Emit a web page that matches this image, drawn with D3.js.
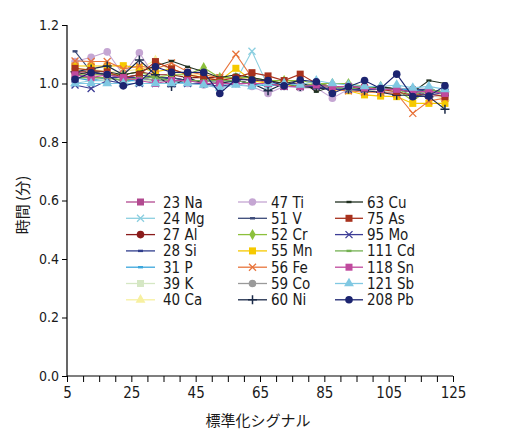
<!DOCTYPE html>
<html><head><meta charset="utf-8">
<script src="https://cdn.jsdelivr.net/npm/d3@7"></script>
<style>
html,body{margin:0;padding:0;background:#fff;}
svg text{font-family:"Liberation Sans Narrow","DejaVu Sans Condensed","Roboto Condensed",sans-serif;fill:#1a1a1a;}
</style></head>
<body><svg id="c" width="522" height="436"></svg>
<script>
const xValues = [7.5,12.5,17.5,22.5,27.5,32.5,37.5,42.5,47.5,52.5,57.5,62.5,67.5,72.5,77.5,82.5,87.5,92.5,97.5,102.5,107.5,112.5,117.5,122.5];
const xTicks = [5,10,15,20,25,30,35,40,45,50,55,60,65,70,75,80,85,90,95,100,105,110,115,120,125];
const xTickLabels = [5,25,45,65,85,105,125];
const yTicks = [0,0.2,0.4,0.6,0.8,1.0,1.2];
const seriesNames = ["23 Na","24 Mg","27 Al","28 Si","31 P","39 K","40 Ca","47 Ti","51 V","52 Cr","55 Mn","56 Fe","59 Co","60 Ni","63 Cu","75 As","95 Mo","111 Cd","118 Sn","121 Sb","208 Pb"];
const Na = [1.04,1.03,1.03,1.02,1.03,1.02,1.02,1.01,1.01,1.0,1.01,1.0,1.0,0.99,0.99,0.99,0.98,0.98,0.98,0.97,0.97,0.96,0.96,0.96];
const Mg = [1.0,1.01,1.01,1.0,1.02,1.0,1.0,1.01,1.0,0.99,1.01,1.11,0.99,1.0,0.99,0.99,0.98,0.99,0.98,0.98,0.98,0.97,0.97,0.97];
const Al = [1.04,1.04,1.03,1.03,1.04,1.03,1.03,1.02,1.02,1.02,1.02,1.01,1.01,1.0,1.0,1.0,0.99,0.99,0.99,0.98,0.98,0.98,0.97,0.97];
const Si = [1.03,1.02,1.02,1.02,1.02,1.01,1.02,1.01,1.01,1.01,1.01,1.0,1.0,1.0,1.0,0.99,0.99,0.99,0.98,0.99,0.98,0.98,0.98,0.97];
const P  = [1.02,1.01,1.02,1.01,1.01,1.01,1.01,1.0,1.0,1.0,1.0,1.0,0.99,1.0,0.99,0.99,0.99,0.98,0.99,0.98,0.98,0.98,0.97,0.97];
const K  = [1.02,1.02,1.01,1.02,1.01,1.01,1.01,1.01,1.0,1.0,1.0,1.0,1.0,0.99,0.99,0.99,0.98,0.98,0.98,0.97,0.98,0.97,0.97,0.96];
const Ca = [1.05,1.05,1.04,1.04,1.05,1.08,1.04,1.03,1.03,1.02,1.02,1.02,1.01,1.01,1.0,1.0,0.99,0.99,0.98,0.98,0.97,0.96,0.96,0.95];
const Ti = [1.075,1.09,1.108,1.03,1.105,1.02,1.0,1.0,0.995,0.985,1.0,0.99,0.966,0.99,0.985,0.985,0.95,0.98,0.975,0.97,0.97,0.96,0.955,0.96];
const V  = [1.11,1.04,1.03,1.02,1.03,1.02,1.02,1.01,1.01,1.01,1.01,1.0,1.0,1.0,0.99,1.0,0.99,0.99,0.98,0.98,0.98,0.97,0.98,0.97];
const Cr = [1.03,1.03,1.03,1.03,1.04,1.02,1.03,1.03,1.054,1.02,1.02,1.02,1.01,1.01,1.01,1.0,1.0,1.0,0.99,0.99,0.98,0.94,0.98,0.97];
const Mn = [1.06,1.06,1.06,1.061,1.054,1.04,1.05,1.03,1.02,1.01,1.052,1.01,1.0,0.995,0.99,0.989,0.98,0.975,0.961,0.957,0.955,0.932,0.932,0.932];
const Fe = [1.077,1.075,1.075,1.05,1.06,1.05,1.07,1.04,1.03,1.02,1.10,1.02,1.0,1.0,0.99,0.99,0.98,0.975,0.97,0.97,0.965,0.898,0.94,0.95];
const Co = [1.02,1.02,1.02,1.01,1.02,1.01,1.01,1.01,1.01,1.0,1.0,1.0,1.0,0.99,0.99,0.99,0.99,0.98,0.98,0.98,0.98,0.97,0.97,0.97];
const Ni = [1.04,1.05,1.06,1.03,1.08,1.03,0.99,1.02,1.0,1.0,1.01,1.0,0.975,1.0,0.99,0.985,0.98,0.98,0.975,0.97,0.96,0.96,0.955,0.912];
const Cu = [1.03,1.04,1.04,1.03,1.04,1.06,1.077,1.057,1.04,1.02,1.03,1.02,1.01,1.0,1.01,0.972,0.99,0.99,0.98,0.99,0.98,0.97,1.01,1.0];
const As = [1.052,1.045,1.04,1.02,1.03,1.075,1.05,1.03,1.02,1.01,1.02,1.037,1.026,1.01,1.032,1.0,0.99,0.99,0.985,0.98,0.972,0.96,0.965,0.955];
const Mo = [0.995,0.983,1.01,1.0,1.0,1.0,1.0,1.0,1.0,0.99,1.0,1.0,1.0,0.99,0.99,0.99,0.98,0.98,0.98,0.98,0.98,0.97,0.96,0.97];
const Cd = [1.02,1.02,1.02,1.01,1.02,1.02,1.01,1.01,1.01,1.01,1.01,1.0,1.0,1.0,0.99,1.0,0.99,0.98,0.99,0.98,0.98,0.96,0.98,0.97];
const Sn = [1.03,1.02,1.03,1.02,1.01,1.0,1.01,1.01,1.0,1.0,1.0,1.0,1.0,0.99,0.99,0.995,0.989,0.99,0.985,0.98,0.98,0.97,0.974,0.966];
const Sb = [1.0,1.0,1.0,1.0,1.0,1.0,1.0,1.0,0.995,0.985,0.995,0.99,1.0,1.0,0.995,1.01,1.0,0.995,0.99,0.99,0.995,0.985,0.99,0.98];
const Pb = [1.014,1.037,1.031,0.992,1.004,1.057,1.038,1.038,1.038,0.966,1.014,1.012,1.01,0.992,1.012,1.006,0.966,0.989,1.01,0.983,1.032,0.955,0.957,0.992];
const seriesValues = [Na,Mg,Al,Si,P,K,Ca,Ti,V,Cr,Mn,Fe,Co,Ni,Cu,As,Mo,Cd,Sn,Sb,Pb];
const seriesColors = ["#b24a90","#8ccfe0","#8a1b1b","#2f3d8c","#3aa6dc","#d5e7c4","#f7f0a0","#c5a6d3","#3a4978","#8cc03c","#f6c900","#e8743c","#9a9a9a","#1b2a48","#1f2f1f","#a8321e","#3c3c96","#74b152","#c04a9e","#80c8e2","#1c2470"];
const seriesMarkers = ["square","x","circle","dash","dash","square","triangle","circle","dash","diamond","square","x","circle","plus","dash","square","x","dash","square","triangle","circle"];

const svg = d3.select("#c");
const x = d3.scaleLinear().domain([5,125]).range([67,453]);
const y = d3.scaleLinear().domain([0,1.2]).range([376,25]);

function drawMarker(g, type, color, cx, cy){
  if(type==="square") g.append("rect").attr("x",cx-3.5).attr("y",cy-3.5).attr("width",7).attr("height",7).attr("fill",color);
  else if(type==="circle") g.append("circle").attr("cx",cx).attr("cy",cy).attr("r",3.8).attr("fill",color);
  else if(type==="triangle") g.append("path").attr("d",d3.symbol(d3.symbolTriangle,42)()).attr("transform",`translate(${cx},${cy})`).attr("fill",color);
  else if(type==="diamond") g.append("path").attr("d",d3.symbol(d3.symbolDiamond,36)()).attr("transform",`translate(${cx},${cy})`).attr("fill",color);
  else if(type==="x") g.append("path").attr("d",`M${cx-3.5},${cy-3.5}L${cx+3.5},${cy+3.5}M${cx-3.5},${cy+3.5}L${cx+3.5},${cy-3.5}`).attr("stroke",color).attr("stroke-width",1.3).attr("fill","none");
  else if(type==="plus") g.append("path").attr("d",`M${cx-4.5},${cy}L${cx+4.5},${cy}M${cx},${cy-4.5}L${cx},${cy+4.5}`).attr("stroke",color).attr("stroke-width",1.5).attr("fill","none");
  else if(type==="dash") g.append("rect").attr("x",cx-2.5).attr("y",cy-1.2).attr("width",5).attr("height",2.4).attr("fill",color);
}

// axes
const yAxis = d3.axisLeft(y).tickValues(yTicks).tickFormat(d3.format(".1f")).tickSize(5).tickPadding(3);
const gy = svg.append("g").attr("transform","translate(67,0)").call(yAxis);
gy.selectAll("text").attr("font-size",14);
const xAxis = d3.axisBottom(x).tickValues(xTicks).tickFormat(d=>xTickLabels.includes(d)?d:"").tickSize(6).tickPadding(5);
const gx = svg.append("g").attr("transform","translate(0,376)").call(xAxis);
gx.selectAll("text").attr("font-size",15);
svg.selectAll(".domain").attr("stroke","#000").attr("stroke-width",1.2);
svg.selectAll(".tick line").attr("stroke","#000");
svg.selectAll(".tick text").attr("fill","#1a1a1a");
gx.select(".domain").attr("d","M67,0H453");
gy.select(".domain").attr("d","M0,25V376");

// series
const plot = svg.append("g");
const line = d3.line().x((d,i)=>x(xValues[i])).y(d=>y(d));
seriesValues.forEach((vals,si)=>{
  const g = plot.append("g");
  g.append("path").attr("d",line(vals)).attr("fill","none").attr("stroke",seriesColors[si]).attr("stroke-width",1.1);
  vals.forEach((v,i)=>drawMarker(g,seriesMarkers[si],seriesColors[si],x(xValues[i]),y(v)));
});

// legend
const colX = [[126,155,163],[238,267,271],[335,363,367]];
const rowY0 = 202, rowDy = 16.3;
seriesNames.forEach((n,i)=>{
  const c = Math.floor(i/7), r = i%7;
  const [x0,x1,tx] = colX[c];
  const cy = rowY0 + r*rowDy;
  const g = svg.append("g");
  g.append("line").attr("x1",x0).attr("x2",x1).attr("y1",cy).attr("y2",cy).attr("stroke",seriesColors[i]).attr("stroke-width",1.3);
  drawMarker(g,seriesMarkers[i],seriesColors[i],(x0+x1)/2,cy);
  g.append("text").attr("x",tx).attr("y",cy+5.5).attr("font-size",15).text(n);
});

// axis titles
svg.append("text").attr("x",258).attr("y",426).attr("text-anchor","middle").attr("font-size",15)
  .style("font-family","'Noto Sans CJK JP',sans-serif").text("標準化シグナル");
svg.append("text").attr("transform","translate(28,205) rotate(-90)").attr("text-anchor","middle").attr("font-size",15)
  .style("font-family","'Noto Sans CJK JP',sans-serif").text("時間 (分)");
</script></body></html>
